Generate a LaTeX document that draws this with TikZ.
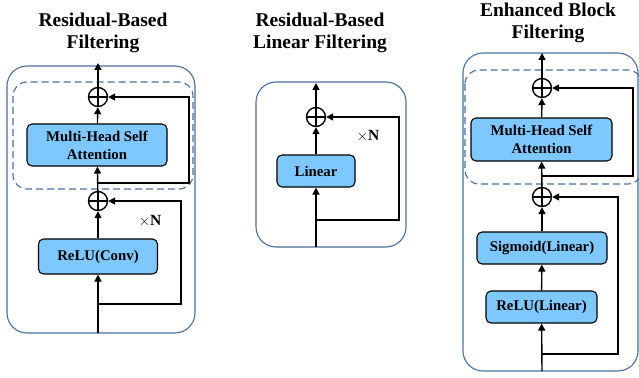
\documentclass[tikz,border=0pt]{standalone}
\usepackage{fontspec}
\setmainfont{Liberation Serif}
\usetikzlibrary{arrows.meta}
\definecolor{cellblue}{RGB}{125,200,255}
\definecolor{frameblue}{RGB}{72,112,158}
\tikzset{
  blk/.style={draw, line width=1.1pt, rounded corners=5pt, fill=cellblue,
    font=\bfseries\fontsize{14.8}{18}\selectfont, align=center, inner sep=2pt},
  plus/.style={circle, draw, line width=1.4pt, minimum size=19pt, inner sep=0pt,
    path picture={\draw[line width=1.4pt]
      (path picture bounding box.north) -- (path picture bounding box.south)
      (path picture bounding box.west) -- (path picture bounding box.east);}},
  arr/.style={-{Triangle[length=7pt,width=7pt]}, line width=1.4pt},
  frame/.style={draw=frameblue, line width=1.1pt, rounded corners=20pt},
  group/.style={draw=frameblue, line width=1.1pt, dashed, dash pattern=on 7pt off 4pt, rounded corners=14pt},
  ttl/.style={font=\bfseries\fontsize{19.5}{22.5}\selectfont, align=center},
  rep/.style={font=\fontsize{15.5}{17}\selectfont}
}
\begin{document}
\begin{tikzpicture}[x=1pt,y=-1pt]
  \useasboundingbox (0,0) rectangle (639,377);
  % Frames
  \draw[frame] (7,66) rectangle (195,333);
  \draw[group] (13,82) rectangle (193,189);
  \draw[frame] (256,82) rectangle (406,247);
  \draw[frame] (463,53) rectangle (638,371);
  \draw[group] (465,70) rectangle (642,184);
  % Titles
  \node[ttl] (ttlA) at (103,33) {Residual-Based\\Filtering};
  \node[ttl] (ttlB) at (320,33) {Residual-Based\\Linear Filtering};
  \node[ttl] (ttlC) at (548,23) {Enhanced Block\\Filtering};

  % Residual-Based Filtering
  \node[plus] (pA1) at (98,97) {};
  \node[blk, minimum width=140pt, minimum height=42pt] (mhsaA) at (97,145) {Multi-Head Self\\Attention};
  \node[plus] (pA2) at (98,201) {};
  \node[blk, minimum width=119pt, minimum height=35pt] (reluA) at (98,256.5) {ReLU(Conv)};
  \node[rep] (repA) at (150,221) {$\times$\textbf{N}};
  \coordinate (inA) at (98,333);
  \coordinate (outA) at (98,63);
  \coordinate (brA1) at (98,304);
  \coordinate (cA1) at (181,304);
  \coordinate (brA2) at (98,183);
  \coordinate (cA2) at (189,183);
  \draw[arr] (inA) -- (reluA);
  \draw[arr] (reluA) -- (pA2);
  \draw[arr] (pA2) -- (mhsaA);
  \draw[arr] (mhsaA) -- (pA1);
  \draw[arr] (pA1) -- (outA);
  \draw[arr] (brA1) -- (cA1) |- (pA2);
  \draw[arr] (brA2) -- (cA2) |- (pA1);

  % Residual-Based Linear Filtering
  \node[plus] (pB) at (316,117) {};
  \node[blk, minimum width=78pt, minimum height=32pt] (linB) at (316,171) {Linear};
  \node[rep] (repB) at (368,136) {$\times$\textbf{N}};
  \coordinate (inB) at (316,247);
  \coordinate (outB) at (316,83);
  \coordinate (brB) at (316,220);
  \coordinate (cB) at (399,220);
  \draw[arr] (inB) -- (linB);
  \draw[arr] (linB) -- (pB);
  \draw[arr] (pB) -- (outB);
  \draw[arr] (brB) -- (cB) |- (pB);

  % Enhanced Block Filtering
  \node[plus] (pC1) at (542,88) {};
  \node[blk, minimum width=141pt, minimum height=43pt] (mhsaC) at (541.5,139.5) {Multi-Head Self\\Attention};
  \node[plus] (pC2) at (542,197) {};
  \node[blk, minimum width=130pt, minimum height=32pt] (sigC) at (542,248) {Sigmoid(Linear)};
  \node[blk, minimum width=111pt, minimum height=32pt] (reluC) at (541.5,307) {ReLU(Linear)};
  \coordinate (inC) at (542,371);
  \coordinate (outC) at (542,53);
  \coordinate (brC1) at (542,354);
  \coordinate (cC1) at (618,354);
  \coordinate (brC2) at (542,176);
  \coordinate (cC2) at (633,176);
  \draw[arr] (inC) -- (reluC);
  \draw[arr] (reluC) -- (sigC);
  \draw[arr] (sigC) -- (pC2);
  \draw[arr] (pC2) -- (mhsaC);
  \draw[arr] (mhsaC) -- (pC1);
  \draw[arr] (pC1) -- (outC);
  \draw[arr] (brC1) -- (cC1) |- (pC2);
  \draw[arr] (brC2) -- (cC2) |- (pC1);
\end{tikzpicture}
\end{document}
